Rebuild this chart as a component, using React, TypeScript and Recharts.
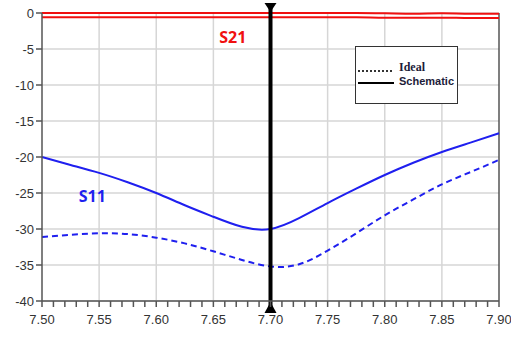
import {
  CartesianGrid,
  Line,
  LineChart,
  ReferenceDot,
  ReferenceLine,
  XAxis,
  YAxis,
} from "recharts";

// frequency sweep (GHz)
const freq = [
  7.5, 7.525, 7.55, 7.575, 7.6, 7.625, 7.65, 7.675, 7.7, 7.725, 7.75, 7.775,
  7.8, 7.825, 7.85, 7.875, 7.9,
];

// S11 (dB)
const s11Schematic = [
  -20.0, -21.1, -22.2, -23.5, -25.0, -26.7, -28.3, -29.7, -30.0, -28.5, -26.4,
  -24.4, -22.5, -20.8, -19.3, -18.0, -16.7,
];
const s11Ideal = [
  -31.1, -30.8, -30.6, -30.7, -31.2, -32.0, -33.1, -34.3, -35.2, -34.9, -33.0,
  -30.6, -28.1, -25.9, -23.8, -22.1, -20.4,
];

// S21 (dB)
const s21Ideal = [
  0, 0, 0, 0, 0, 0, 0, 0, 0, 0, 0, 0, -0.05, -0.1, -0.05, -0.1, -0.1,
];
const s21Schematic = [
  -0.6, -0.6, -0.6, -0.6, -0.6, -0.6, -0.6, -0.6, -0.6, -0.6, -0.6, -0.6, -0.65,
  -0.65, -0.65, -0.7, -0.7,
];

const majorTicks = [7.5, 7.55, 7.6, 7.65, 7.7, 7.75, 7.8, 7.85, 7.9];
const majorLabels = ["7.50", "7.55", "7.60", "7.65", "7.70", "7.75", "7.80", "7.85", "7.90"];
const minorTicks = Array.from({ length: 41 }, (_, i) => +(7.5 + i * 0.01).toFixed(2));
const yTicks = [0, -5, -10, -15, -20, -25, -30, -35, -40];

const markerFreq = 7.7;

const data = freq.map((f, i) => ({
  f,
  s11s: s11Schematic[i],
  s11i: s11Ideal[i],
  s21s: s21Schematic[i],
  s21i: s21Ideal[i],
}));

const BLUE = "#1f1fef";
const RED = "#f01010";
const AXIS = "#555";
const GRID = "#d6d6d6";
const FONT = "'Liberation Sans', Arial, sans-serif";

function XTick(props: any) {
  const { x, y, payload } = props;
  const idx = majorTicks.findIndex((t) => Math.abs(t - payload.value) < 1e-6);
  if (idx < 0) return null;
  return (
    <text x={x} y={y + 15} textAnchor="middle" fontSize={13} fill="#333" fontFamily={FONT}>
      {majorLabels[idx]}
    </text>
  );
}

// vertical marker: down-pointing triangle above the plot, up-pointing one under the axis
function Marker(props: any) {
  const { x1, y1, y2 } = props;
  const top = Math.min(y1, y2);
  const bottom = Math.max(y1, y2);
  return (
    <g>
      <line x1={x1} y1={top - 8} x2={x1} y2={bottom + 6} stroke="#000" strokeWidth={4} />
      <polygon points={`${x1 - 6},${top - 10} ${x1 + 6},${top - 10} ${x1},${top - 1}`} fill="#000" />
      <polygon points={`${x1 - 6},${bottom + 12} ${x1 + 6},${bottom + 12} ${x1},${bottom + 1}`} fill="#000" />
    </g>
  );
}

function LegendBox() {
  return (
    <div
      style={{
        position: "absolute",
        left: 355,
        top: 46,
        width: 101,
        height: 56,
        border: "1.5px solid #333",
        background: "#fff",
        fontFamily: "'Liberation Serif', serif",
        fontWeight: "bold",
        color: "#1c1c3a",
      }}
    >
      <svg width={40} height={30} style={{ position: "absolute", left: 2, top: 16 }}>
        <line x1={0} y1={8} x2={36} y2={8} stroke="#333" strokeWidth={2} strokeDasharray="2 2" />
        <line x1={0} y1={20} x2={36} y2={20} stroke="#000" strokeWidth={2} />
      </svg>
      <div style={{ position: "absolute", left: 43, top: 13, fontSize: 12, lineHeight: "14px" }}>
        Ideal
      </div>
      <div
        style={{
          position: "absolute",
          left: 43,
          top: 28,
          fontSize: 11,
          lineHeight: "13px",
          fontFamily: "'Liberation Sans Narrow', 'Liberation Sans', sans-serif",
        }}
      >
        Schematic
      </div>
    </div>
  );
}

export default function App() {
  return (
    <div style={{ position: "absolute", left: 0, top: 0, width: 511, height: 337, background: "#fff" }}>
      <LineChart
        width={511}
        height={337}
        data={data}
        margin={{ top: 13, right: 12, bottom: 0, left: 0 }}
      >
        <CartesianGrid vertical={false} stroke={GRID} strokeWidth={1.5} />
        {majorTicks.slice(1, -1).map((t) => (
          <ReferenceLine key={t} x={t} stroke={GRID} strokeWidth={1.5} />
        ))}
        <ReferenceLine x={7.9} stroke={AXIS} strokeWidth={1.5} />
        <XAxis
          dataKey="f"
          type="number"
          domain={[7.5, 7.9]}
          ticks={minorTicks}
          interval={0}
          height={36}
          stroke={AXIS}
          strokeWidth={1.5}
          tickSize={6}
          tick={<XTick />}
        />
        <YAxis
          type="number"
          domain={[-40, 0]}
          ticks={yTicks}
          interval={0}
          width={42}
          stroke={AXIS}
          strokeWidth={1.5}
          tickSize={6}
          tick={{ fontSize: 13, fill: "#333", fontFamily: FONT }}
        />
        <Line
          dataKey="s21i"
          stroke={RED}
          strokeWidth={2}
          dot={false}
          type="monotone"
          isAnimationActive={false}
        />
        <Line
          dataKey="s21s"
          stroke={RED}
          strokeWidth={2}
          dot={false}
          type="monotone"
          isAnimationActive={false}
        />
        <Line
          dataKey="s11i"
          stroke={BLUE}
          strokeWidth={2}
          strokeDasharray="6 4"
          dot={false}
          type="natural"
          isAnimationActive={false}
        />
        <Line
          dataKey="s11s"
          stroke={BLUE}
          strokeWidth={2}
          dot={false}
          type="natural"
          isAnimationActive={false}
        />
        <ReferenceLine x={markerFreq} ifOverflow="visible" shape={<Marker />} />
        <ReferenceDot
          x={7.667}
          y={-3.4}
          r={0}
          label={{
            value: "S21",
            fill: RED,
            fontSize: 16,
            fontWeight: "bold",
            fontFamily: "'Open Sans', sans-serif",
          }}
        />
        <ReferenceDot
          x={7.544}
          y={-25.4}
          r={0}
          label={{
            value: "S11",
            fill: BLUE,
            fontSize: 16,
            fontWeight: "bold",
            fontFamily: "'Open Sans', sans-serif",
          }}
        />
      </LineChart>
      <LegendBox />
    </div>
  );
}
